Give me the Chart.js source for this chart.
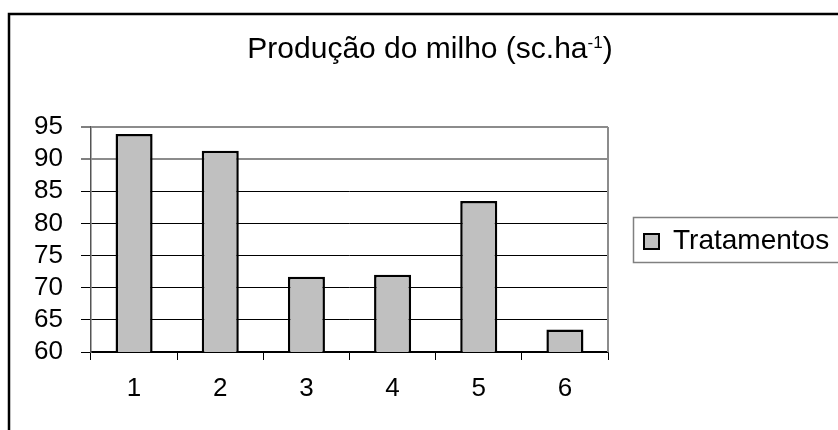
<!DOCTYPE html>
<html>
<head>
<meta charset="utf-8">
<title>Produção do milho</title>
<script src="https://cdn.jsdelivr.net/npm/chart.js@4/dist/chart.umd.min.js"></script>
<style>
  html, body { margin: 0; padding: 0; background: #fff; }
  #wrap { width: 838px; height: 430px; }
  canvas { display: block; }
</style>
</head>
<body>
<div id="wrap"><canvas id="c" width="838" height="430"></canvas></div>
<script>
// Treatments on the x axis and yield per treatment (sc/ha)
const categories = ['1', '2', '3', '4', '5', '6'];
const producao = [93.9, 91.3, 71.7, 72.0, 83.5, 63.5];
const yTicks = [60, 65, 70, 75, 80, 85, 90, 95];
const seriesName = 'Tratamentos';
const titleMain = 'Produção do milho (sc.ha';
const titleSup = '-1';
const titleEnd = ')';

const FONT = '"Liberation Sans", Arial, Helvetica, sans-serif';

// Outer frame, plot border, title with superscript and boxed legend
const decorations = {
  id: 'decorations',
  beforeDraw(chart) {
    const ctx = chart.ctx;
    ctx.save();
    ctx.fillStyle = '#fff';
    ctx.fillRect(0, 0, chart.width, chart.height);
    ctx.strokeStyle = '#000';
    ctx.lineWidth = 2.5;
    ctx.beginPath();
    ctx.moveTo(9, chart.height + 5);
    ctx.lineTo(9, 14);
    ctx.lineTo(chart.width + 5, 14);
    ctx.stroke();
    ctx.restore();
  },
  beforeDatasetsDraw(chart) {
    const ctx = chart.ctx;
    const a = chart.chartArea;
    ctx.save();
    ctx.strokeStyle = '#8c8c8c';
    ctx.lineWidth = 2;
    ctx.beginPath();
    ctx.moveTo(a.right, a.top);
    ctx.lineTo(a.right, a.bottom);
    ctx.stroke();
    ctx.restore();
  },
  afterDraw(chart) {
    const ctx = chart.ctx;
    ctx.save();
    ctx.fillStyle = '#000';
    ctx.textBaseline = 'alphabetic';
    ctx.textAlign = 'left';

    // title
    const big = '30px ' + FONT, small = '17px ' + FONT;
    ctx.font = big;
    const w1 = ctx.measureText(titleMain).width;
    const w3 = ctx.measureText(titleEnd).width;
    ctx.font = small;
    const w2 = ctx.measureText(titleSup).width;
    let x = 430 - (w1 + w2 + w3) / 2;
    ctx.font = big;
    ctx.fillText(titleMain, x, 58);
    x += w1;
    ctx.font = small;
    ctx.fillText(titleSup, x, 48);
    x += w2;
    ctx.font = big;
    ctx.fillText(titleEnd, x, 58);

    // legend
    const ds = chart.data.datasets[0];
    ctx.strokeStyle = '#808080';
    ctx.lineWidth = 1.5;
    ctx.strokeRect(633.5, 217.5, 230, 45);
    ctx.fillStyle = ds.backgroundColor;
    ctx.fillRect(643, 233, 17, 17);
    ctx.strokeStyle = '#000';
    ctx.lineWidth = 2;
    ctx.strokeRect(644, 234, 15, 15);
    ctx.fillStyle = '#000';
    ctx.font = '28px ' + FONT;
    ctx.fillText(ds.label, 673, 249);
    ctx.restore();
  }
};

new Chart(document.getElementById('c'), {
  type: 'bar',
  data: {
    labels: categories,
    datasets: [{
      label: seriesName,
      data: producao,
      backgroundColor: '#c0c0c0',
      borderColor: '#000',
      borderWidth: 2.5,
      borderSkipped: false,
      barPercentage: 0.43,
      categoryPercentage: 1
    }]
  },
  options: {
    responsive: false,
    animation: false,
    devicePixelRatio: 1,
    layout: { padding: { left: 0, top: 127, right: 230, bottom: 0 } },
    plugins: {
      legend: { display: false },
      title: { display: false },
      tooltip: { enabled: false }
    },
    scales: {
      x: {
        offset: true,
        grid: {
          offset: true,
          drawOnChartArea: false,
          drawTicks: true,
          tickLength: 8,
          tickColor: '#000',
          tickWidth: 1
        },
        border: { display: true, color: '#000', width: 1.5 },
        ticks: { color: '#000', font: { family: FONT, size: 26 }, padding: 13, autoSkip: false },
        afterFit(scale) { scale.height = 78; }
      },
      y: {
        min: 60,
        max: 95,
        afterBuildTicks(scale) { scale.ticks = yTicks.map(v => ({ value: v })); },
        grid: {
          color: c => (c.tick && c.tick.value >= 90) ? '#8c8c8c' : '#000',
          lineWidth: c => (c.tick && c.tick.value >= 90) ? 2 : 1,
          tickLength: 10,
          tickColor: '#000',
          tickWidth: 1
        },
        border: { display: true, color: '#555', width: 1.5 },
        ticks: { color: '#000', font: { family: FONT, size: 26 }, padding: 18, autoSkip: false },
        afterFit(scale) { scale.width = 91; }
      }
    }
  },
  plugins: [decorations]
});
</script>
</body>
</html>
